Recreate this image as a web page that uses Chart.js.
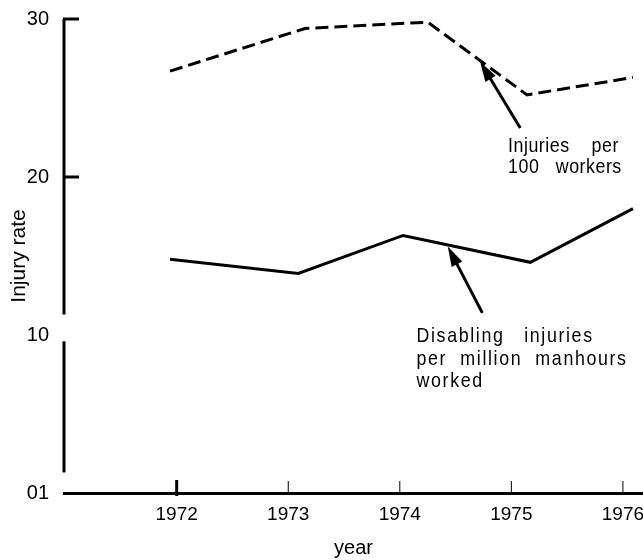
<!DOCTYPE html>
<html>
<head>
<meta charset="utf-8">
<script src="https://cdn.jsdelivr.net/npm/chart.js@4"></script>
<style>
  html, body { margin: 0; padding: 0; background: #fff; }
  #wrap { width: 643px; height: 560px; }
</style>
</head>
<body>
<div id="wrap"><canvas id="injuryChart"></canvas></div>
<script>
// values
const yearTicks = [1972, 1973, 1974, 1975, 1976];
const rateTicks = [0, 10, 20, 30];
const perWorkersYears = [1971.94, 1973.15, 1974.25, 1975.14, 1976.09];
const perWorkersRates = [26.7, 29.4, 29.8, 25.2, 26.3];
const perHoursYears = [1971.94, 1973.09, 1974.03, 1975.17, 1976.09];
const perHoursRates = [14.8, 13.9, 16.3, 14.6, 18.0];

const sans = '"Liberation Sans", Arial, sans-serif';

function toPoints(xs, ys) {
    return xs.map((v, i) => ({ x: v, y: ys[i] }));
}

function drawArrow(ctx, x1, y1, x2, y2) {
    const a = Math.atan2(y2 - y1, x2 - x1);
    const c = Math.cos(a), s = Math.sin(a);
    ctx.lineWidth = 3;
    ctx.beginPath();
    ctx.moveTo(x1, y1);
    ctx.lineTo(x2 - 12 * c, y2 - 12 * s);
    ctx.stroke();
    ctx.beginPath();
    ctx.moveTo(x2, y2);
    ctx.lineTo(x2 - 20 * c + 6 * s, y2 - 20 * s - 6 * c);
    ctx.lineTo(x2 - 20 * c - 6 * s, y2 - 20 * s + 6 * c);
    ctx.closePath();
    ctx.fill();
}

// broken y axis, small tick marks, arrows and labels
const notesPlugin = {
    id: 'notes',
    afterDatasetsDraw(chart, args, opts) {
        const { ctx, scales: { x, y } } = chart;
        ctx.save();
        ctx.strokeStyle = '#000';
        ctx.fillStyle = '#000';
        ctx.lineCap = 'butt';

        const ax = x.left;
        ctx.lineWidth = 3;
        opts.axisSegments.forEach(([a, b]) => {
            ctx.beginPath();
            ctx.moveTo(ax, y.getPixelForValue(a));
            ctx.lineTo(ax, y.getPixelForValue(b));
            ctx.stroke();
        });
        opts.yMarks.forEach(v => {
            const py = y.getPixelForValue(v);
            ctx.beginPath();
            ctx.moveTo(ax - 1, py);
            ctx.lineTo(ax + 15, py);
            ctx.stroke();
        });

        const by = y.getPixelForValue(0);
        yearTicks.forEach((v, i) => {
            const px = x.getPixelForValue(v);
            ctx.lineWidth = i === 0 ? 3 : 1;
            ctx.beginPath();
            ctx.moveTo(px, i === 0 ? by + 3 : by);
            ctx.lineTo(px, by - (i === 0 ? 13 : 12));
            ctx.stroke();
        });

        opts.notes.forEach(n => {
            drawArrow(ctx,
                x.getPixelForValue(n.tail[0]), y.getPixelForValue(n.tail[1]),
                x.getPixelForValue(n.tip[0]), y.getPixelForValue(n.tip[1]));
            const tx = x.getPixelForValue(n.at[0]);
            const ty = y.getPixelForValue(n.at[1]);
            // the original lettering is a narrow face, so squeeze a regular one
            ctx.save();
            ctx.translate(tx, ty);
            ctx.scale(0.85, 1);
            ctx.font = '21px ' + sans;
            ctx.letterSpacing = n.spacing + 'px';
            ctx.textAlign = 'left';
            ctx.textBaseline = 'alphabetic';
            n.lines.forEach((line, i) => ctx.fillText(line, 0, i * n.leading));
            ctx.restore();
        });
        ctx.restore();
    }
};

const ctx = document.getElementById('injuryChart').getContext('2d');

new Chart(ctx, {
    type: 'line',
    data: {
        datasets: [
            {
                label: 'Injuries per 100 workers',
                data: toPoints(perWorkersYears, perWorkersRates),
                borderColor: '#000',
                borderWidth: 3,
                borderDash: [13, 6],
                pointRadius: 0,
                tension: 0,
                fill: false
            },
            {
                label: 'Disabling injuries per million manhours worked',
                data: toPoints(perHoursYears, perHoursRates),
                borderColor: '#000',
                borderWidth: 3,
                pointRadius: 0,
                tension: 0,
                fill: false
            }
        ]
    },
    options: {
        responsive: true,
        maintainAspectRatio: false,
        animation: false,
        layout: { padding: { top: 19, right: 0, left: 0, bottom: 0 } },
        plugins: {
            legend: { display: false },
            tooltip: { enabled: false },
            notes: {
                axisSegments: [[30, 11.3], [9.6, 1.3]],
                yMarks: [30, 20],
                notes: [
                    {
                        lines: ['Injuries    per', '100   workers'],
                        at: [1974.97, 21.6],
                        spacing: 0.6,
                        leading: 21,
                        tip: [1974.72, 27.3],
                        tail: [1975.08, 23.1]
                    },
                    {
                        lines: ['Disabling   injuries', 'per  million  manhours', 'worked'],
                        at: [1974.15, 9.55],
                        spacing: 1.9,
                        leading: 22.5,
                        tip: [1974.43, 15.6],
                        tail: [1974.74, 11.4]
                    }
                ]
            }
        },
        scales: {
            x: {
                type: 'linear',
                min: 1970.99,
                max: 1976.18,
                grid: { display: false },
                border: { display: true, color: '#000', width: 3 },
                afterBuildTicks: scale => {
                    scale.ticks = yearTicks.map(v => ({ value: v }));
                },
                afterFit: scale => {
                    scale.height = 67;
                    scale.paddingLeft = 0;
                    scale.paddingRight = 0;
                },
                ticks: {
                    padding: 2,
                    color: '#000',
                    font: { family: sans, size: 19 },
                    maxRotation: 0,
                    callback: v => String(v)
                },
                title: {
                    display: true,
                    text: 'year',
                    color: '#000',
                    font: { family: sans, size: 20 },
                    padding: { top: 0, bottom: 0 }
                }
            },
            y: {
                min: 0,
                max: 30,
                grid: { display: false },
                border: { display: false },
                afterBuildTicks: scale => {
                    scale.ticks = rateTicks.map(v => ({ value: v }));
                },
                afterFit: scale => { scale.width = 64; },
                ticks: {
                    padding: 7,
                    color: '#000',
                    font: { family: sans, size: 20 },
                    callback: v => v === 0 ? '01' : String(v)
                },
                title: {
                    display: true,
                    text: 'Injury rate',
                    color: '#000',
                    font: { family: sans, size: 21 },
                    padding: { top: 7, bottom: 0 }
                }
            }
        }
    },
    plugins: [notesPlugin]
});
</script>
</body>
</html>
